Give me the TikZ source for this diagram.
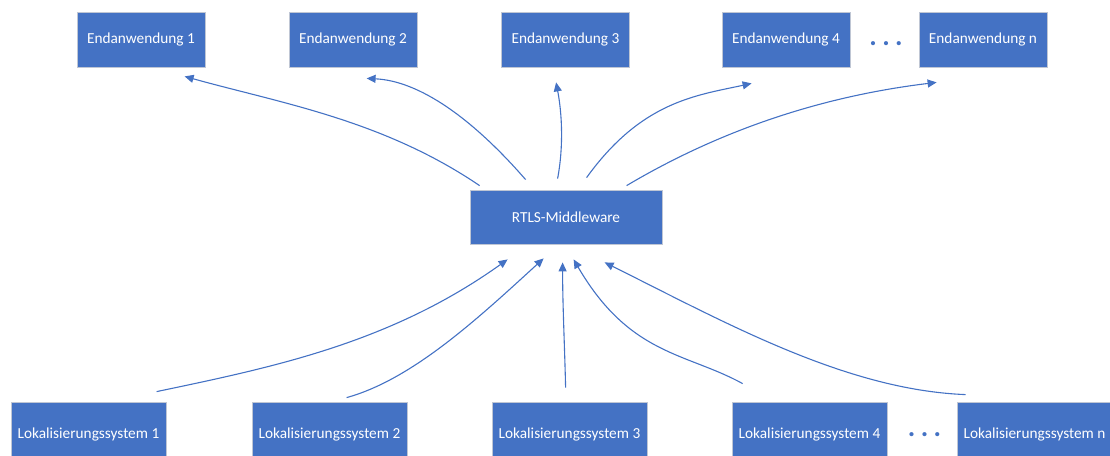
\documentclass[tikz,border=0pt]{standalone}
\usepackage{fontspec}
\setmainfont{Carlito}
\usetikzlibrary{arrows.meta,calc}
\definecolor{office}{HTML}{4472C4}
\definecolor{rim}{HTML}{BFC6D4}
\begin{document}
\begin{tikzpicture}[x=1pt,y=-1pt,
  box/.style={draw=rim,line width=0.8pt,fill=office,text=white,inner sep=0pt,
    font=\fontsize{15.3}{18}\selectfont},
  appbox/.style={box,minimum width=128pt,minimum height=55pt},
  srcbox/.style={box,minimum width=155pt,minimum height=64pt},
  hubbox/.style={box,minimum width=192pt,minimum height=54pt},
  flow/.style={draw=office,line width=1.1pt,-{Triangle[length=9pt,width=8pt]}},
  ellip/.style={text=office,inner sep=0pt,font=\fontsize{28}{28}\selectfont\bfseries}
]
\useasboundingbox (0,0) rectangle (1110,455);
\clip (0,0) rectangle (1110,455);

% end applications (top row)
\node[appbox] (e1) at (141,39.5) {Endanwendung 1};
\node[appbox] (e2) at (353,39.5) {Endanwendung 2};
\node[appbox] (e3) at (565.5,39.5) {Endanwendung 3};
\node[appbox] (e4) at (786,39.5) {Endanwendung 4};
\node[appbox] (en) at (983,39.5) {Endanwendung n};
\node[ellip] (edots) at (886,44) {.\hspace{5.5pt}.\hspace{5.5pt}.};

% middleware
\node[hubbox] (mw) at (566,217) {RTLS-Middleware};

% localisation systems (bottom row)
\node[srcbox] (l1) at (88.5,434.5) {Lokalisierungssystem 1};
\node[srcbox] (l2) at (329.5,434.5) {Lokalisierungssystem 2};
\node[srcbox] (l3) at (569.5,434.5) {Lokalisierungssystem 3};
\node[srcbox] (l4) at (809.5,434.5) {Lokalisierungssystem 4};
\node[srcbox] (ln) at (1034.5,434.5) {Lokalisierungssystem n};
\node[ellip] (ldots) at (924.5,435) {.\hspace{5.5pt}.\hspace{5.5pt}.};

% middleware -> applications
\draw[flow] ($(mw.north west)+(10,-4)$)
  .. controls +(-96.8,-65.6) and +(96.8,26.9) .. ($(e1.south west)+(108,9)$);
\draw[flow] ($(mw.north west)+(56,-10)$)
  .. controls +(-53,-61) and +(53,2.5) .. ($(e2.south west)+(78,11)$);
\draw[flow] ($(mw.north west)+(88,-11)$)
  .. controls +(6,-32) and +(6,32) .. ($(e3.south west)+(55,15)$);
\draw[flow] ($(mw.north west)+(117,-12)$)
  .. controls +(55,-76.4) and +(-55,12) .. ($(e4.south west)+(30,16)$);
\draw[flow] ($(mw.north west)+(157,-4)$)
  .. controls +(103.2,-61.2) and +(-103.2,12.5) .. ($(en.south west)+(18,15)$);

% localisation systems -> middleware
\draw[flow] ($(l1.north west)+(146,-10.5)$)
  .. controls +(117,-24.5) and +(-117,83.6) .. ($(mw.south west)+(38,15)$);
\draw[flow] ($(l2.north west)+(95,-4.5)$)
  .. controls +(65.8,-18.2) and +(-65.8,60.2) .. ($(mw.south west)+(74,14)$);
\draw[flow] ($(l3.north west)+(74,-14.5)$)
  .. controls +(-1,-43) and +(0,43) .. ($(mw.south west)+(93,18)$);
\draw[flow] ($(l4.north west)+(11,-18.5)$)
  .. controls +(-56.2,-31) and +(56.2,96.3) .. ($(mw.south west)+(104,15)$);
\draw[flow] ($(ln.north west)+(9,-7.5)$)
  .. controls +(-120.2,-4.7) and +(120.2,59.8) .. ($(mw.south west)+(135,18)$);
\end{tikzpicture}
\end{document}
